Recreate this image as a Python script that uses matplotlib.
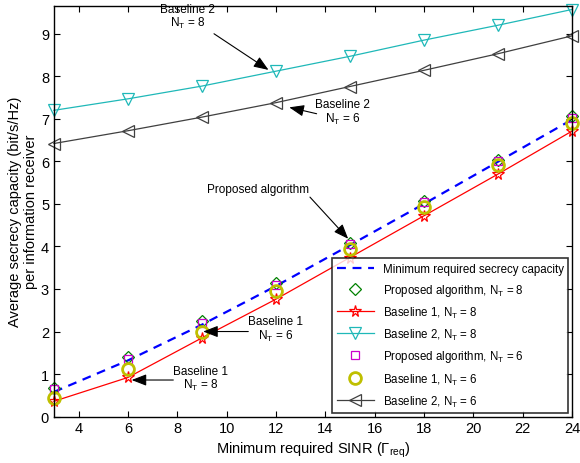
import numpy as np
import matplotlib
matplotlib.use("Agg")
import matplotlib.pyplot as plt

plt.rcParams['font.family'] = ['Liberation Sans', 'DejaVu Sans']
plt.rcParams['mathtext.default'] = 'regular'

# SINR values (dB)
sinr = [3, 6, 9, 12, 15, 18, 21, 24]

# Values
min_required = [0.58, 1.32, 2.16, 3.07, 4.03, 5.00, 5.99, 6.98]
proposed_nt8 = [0.68, 1.40, 2.24, 3.14, 4.09, 5.07, 6.04, 7.06]
baseline1_nt8 = [0.36, 0.92, 1.85, 2.76, 3.74, 4.72, 5.70, 6.71]
baseline2_nt8 = [7.20, 7.47, 7.77, 8.12, 8.47, 8.85, 9.20, 9.57]
proposed_nt6 = [0.65, 1.36, 2.20, 3.10, 4.06, 5.04, 6.00, 7.03]
baseline1_nt6 = [0.43, 1.12, 2.00, 2.95, 3.93, 4.93, 5.92, 6.91]
baseline2_nt6 = [6.42, 6.72, 7.04, 7.38, 7.76, 8.14, 8.53, 8.95]

fig = plt.figure(figsize=(5.8, 4.64), dpi=100)
ax = fig.add_axes([0.093, 0.1, 0.893, 0.8856])

ax.plot(sinr, min_required, '--', color='#0000ff', lw=1.6, dashes=(4, 3),
        label='Minimum required secrecy capacity')
ax.plot(sinr, proposed_nt8, linestyle='none', marker='D', ms=6, mfc='none',
        mec='#008000', mew=0.9, clip_on=False,
        label='Proposed algorithm, N$_T$ = 8')
ax.plot(sinr, baseline1_nt8, '-', color='#ff0000', lw=0.9, marker='*', ms=8.5,
        mfc='none', mew=0.9, clip_on=False, label='Baseline 1, N$_T$ = 8')
ax.plot(sinr, baseline2_nt8, '-', color='#1fb8b8', lw=0.9, marker='v', ms=8.5,
        mfc='none', mew=0.9, clip_on=False, label='Baseline 2, N$_T$ = 8')
ax.plot(sinr, proposed_nt6, linestyle='none', marker='s', ms=6, mfc='none',
        mec='#cc00cc', mew=0.9, clip_on=False,
        label='Proposed algorithm, N$_T$ = 6')
ax.plot(sinr, baseline1_nt6, linestyle='none', marker='o', ms=8.5, mfc='none',
        mec='#bfbf00', mew=2.0, clip_on=False, label='Baseline 1, N$_T$ = 6')
ax.plot(sinr, baseline2_nt6, '-', color='#404040', lw=0.9, marker='<', ms=8.5,
        mfc='none', mew=0.9, clip_on=False, label='Baseline 2, N$_T$ = 6')

ax.set_xlim(3, 24)
ax.set_ylim(0, 9.66)
ax.set_xticks(range(4, 25, 2))
ax.set_yticks(range(0, 10))
ax.tick_params(direction='in', top=True, right=True, labelsize=10.5, length=4)
for s in ax.spines.values():
    s.set_linewidth(1.0)

ax.set_xlabel('Minimum required SINR ($\\Gamma_{req}$)', fontsize=10.5, labelpad=3)
ax.set_ylabel('Average secrecy capacity (bit/s/Hz)\nper information receiver',
              fontsize=10.5, labelpad=2)

leg = ax.legend(loc='lower right', fontsize=8.3, handlelength=3.2,
                frameon=True, fancybox=False, borderaxespad=0.3,
                labelspacing=0.6, borderpad=0.4)
leg.get_frame().set_edgecolor('black')
leg.get_frame().set_linewidth(1.2)

arrow = dict(arrowstyle='-|>,head_length=0.9,head_width=0.35', color='black',
             lw=0.8, shrinkA=0, shrinkB=0)
tkw = dict(fontsize=8.5, ha='center', va='center', linespacing=1.0)

ax.text(8.43, 9.4, 'Baseline 2\nN$_T$ = 8', **tkw)
ax.annotate('', xy=(11.7, 8.15), xytext=(9.49, 9.0), arrowprops=arrow)

ax.text(14.71, 7.16, 'Baseline 2\nN$_T$ = 6', **tkw)
ax.annotate('', xy=(12.54, 7.27), xytext=(13.65, 7.12), arrowprops=arrow)

ax.text(11.27, 5.35, 'Proposed algorithm', **tkw)
ax.annotate('', xy=(14.93, 4.18), xytext=(13.38, 5.16), arrowprops=arrow)

ax.text(11.99, 2.06, 'Baseline 1\nN$_T$ = 6', **tkw)
ax.annotate('', xy=(9.05, 2.0), xytext=(10.88, 2.0), arrowprops=arrow)

ax.text(8.96, 0.9, 'Baseline 1\nN$_T$ = 8', **tkw)
ax.annotate('', xy=(6.15, 0.86), xytext=(7.84, 0.86), arrowprops=arrow)

fig.savefig('out.png', dpi=100)
